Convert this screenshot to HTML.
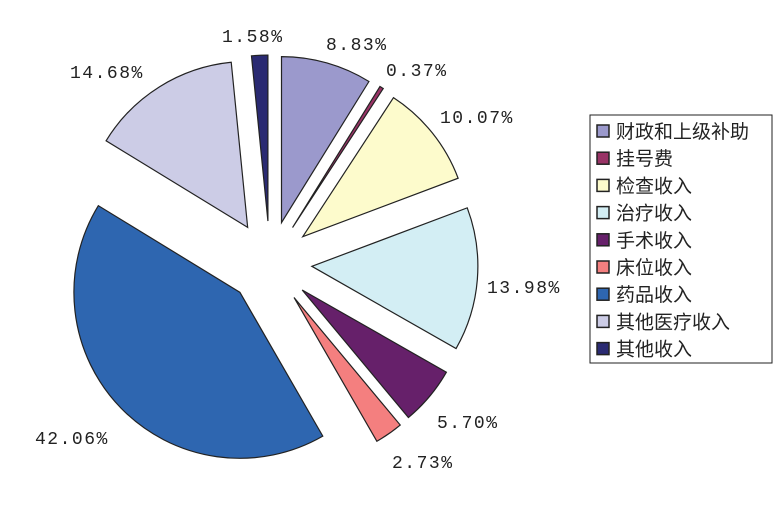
<!DOCTYPE html>
<html><head><meta charset="utf-8"><style>
body{margin:0;background:#fff;}
svg{display:block;}
.lbl{font-family:"Liberation Mono","Noto Serif CJK SC",monospace;font-size:18px;fill:#222;letter-spacing:1.5px;}
.lg{font-family:"Liberation Sans","Noto Sans CJK SC",sans-serif;font-size:19px;fill:#222;}
</style></head><body>
<svg id="chart" width="782" height="526" viewBox="0 0 782 526" xmlns="http://www.w3.org/2000/svg">
<g id="slices"></g><g id="labels"></g>
<rect x="590" y="115" width="182" height="248" fill="#fff" stroke="#222" stroke-width="1"/>
<g id="legend"></g>
</svg>
<script>
const categories=["财政和上级补助","挂号费","检查收入","治疗收入","手术收入","床位收入","药品收入","其他医疗收入","其他收入"];
const values=[8.83,0.37,10.07,13.98,5.70,2.73,42.06,14.68,1.58];
const valueLabels=["8.83%","0.37%","10.07%","13.98%","5.70%","2.73%","42.06%","14.68%","1.58%"];
const colors=["#9b99cc","#993366","#fdfbcc","#d3eef4","#66206a","#f47f7f","#2e66b0","#cccce6","#2a2a72"];
const labelPos=[[326,50],[386,76],[440,123],[487,293],[437,428],[392,468],[35,444],[70,78],[222,42]];
const NS="http://www.w3.org/2000/svg";
const cx=270,cy=263,r=166,off=42;
const total=values.reduce((a,b)=>a+b,0);
const gS=document.getElementById('slices'),gL=document.getElementById('labels'),gG=document.getElementById('legend');
let acc=0;
function pt(x,y,a,rr){return [x+rr*Math.sin(a),y-rr*Math.cos(a)];}
values.forEach((v,i)=>{
  const a0=acc/total*2*Math.PI; acc+=v; const a1=acc/total*2*Math.PI;
  const mid=(a0+a1)/2;
  const [ox,oy]=pt(cx,cy,mid,off);
  const [x0,y0]=pt(ox,oy,a0,r),[x1,y1]=pt(ox,oy,a1,r);
  const large=(a1-a0)>Math.PI?1:0;
  const p=document.createElementNS(NS,'path');
  p.setAttribute('d',`M${ox},${oy}L${x0},${y0}A${r},${r} 0 ${large} 1 ${x1},${y1}Z`);
  p.setAttribute('fill',colors[i]);p.setAttribute('stroke','#222');p.setAttribute('stroke-width','1.2');
  
  
  gS.appendChild(p);
  const t=document.createElementNS(NS,'text');
  t.setAttribute('x',labelPos[i][0]);t.setAttribute('y',labelPos[i][1]);
  t.setAttribute('class','lbl');t.textContent=valueLabels[i];
  
  
  gL.appendChild(t);
  const y=131+i*27.2;
  const s=document.createElementNS(NS,'rect');
  s.setAttribute('x',597);s.setAttribute('y',y-6);s.setAttribute('width',12);s.setAttribute('height',12);
  s.setAttribute('fill',colors[i]);s.setAttribute('stroke','#222');s.setAttribute('stroke-width','1.5');
  
  
  gG.appendChild(s);
  const lt=document.createElementNS(NS,'text');
  lt.setAttribute('x',616);lt.setAttribute('y',y+7);lt.setAttribute('class','lg');lt.textContent=categories[i];
  
  
  gG.appendChild(lt);
});
</script>
</body></html>
